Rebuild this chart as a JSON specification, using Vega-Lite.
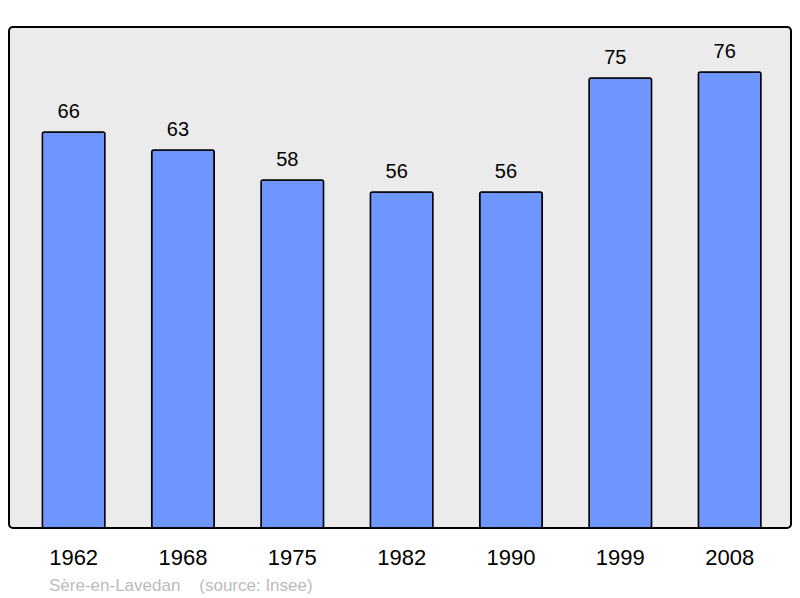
{
  "$schema": "https://vega.github.io/schema/vega-lite/v6.json",
  "width": 782,
  "height": 501,
  "autosize": {"type": "none"},
  "padding": {"left": 9, "top": 27, "right": 9, "bottom": 70},
  "background": "white",
  "config": {
    "font": "Liberation Sans",
    "view": {"fill": "#ebebeb", "stroke": "#000000", "strokeWidth": 2, "cornerRadius": 4}
  },
  "title": {
    "text": "Sère-en-Lavedan\u00a0\u00a0\u00a0\u00a0(source: Insee)",
    "orient": "bottom",
    "anchor": "start",
    "frame": "bounds",
    "fontSize": 17,
    "fontWeight": "normal",
    "color": "#bbbbbb",
    "font": "Liberation Sans",
    "dx": 40,
    "offset": 10
  },
  "data": {
    "values": [
      {"year": "1962", "pop": 66},
      {"year": "1968", "pop": 63},
      {"year": "1975", "pop": 58},
      {"year": "1982", "pop": 56},
      {"year": "1990", "pop": 56},
      {"year": "1999", "pop": 75},
      {"year": "2008", "pop": 76}
    ]
  },
  "encoding": {
    "x": {
      "field": "year",
      "type": "nominal",
      "sort": null,
      "scale": {"paddingInner": 0.428, "paddingOuter": 0.29, "align": 0.526},
      "axis": {
        "title": null,
        "domain": false,
        "ticks": false,
        "labelAngle": 0,
        "labelFontSize": 22,
        "labelColor": "#000000",
        "labelFont": "Liberation Sans",
        "labelBaseline": "alphabetic",
        "labelPadding": 36
      }
    },
    "y": {
      "field": "pop",
      "type": "quantitative",
      "scale": {"domain": [0, 83.5], "nice": false, "zero": true},
      "axis": null
    }
  },
  "layer": [
    {
      "mark": {"type": "bar", "color": "#6f96ff", "stroke": "#000000", "strokeWidth": 1.5, "cornerRadius": 2}
    },
    {
      "mark": {"type": "text", "baseline": "alphabetic", "dy": -14, "dx": -5, "fontSize": 20, "color": "#000000", "font": "Liberation Sans"},
      "encoding": {"text": {"field": "pop", "type": "quantitative"}}
    }
  ]
}
